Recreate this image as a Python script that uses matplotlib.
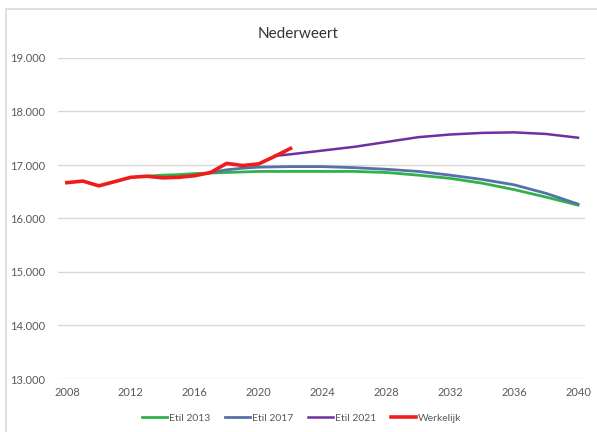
import matplotlib.pyplot as plt
from matplotlib.patches import Rectangle
from matplotlib.ticker import FuncFormatter, MultipleLocator

plt.rcParams['font.family'] = ['Lato', 'DejaVu Sans']

# observed population (x1000)
years_obs = [2008, 2009, 2010, 2011, 2012, 2013, 2014, 2015, 2016, 2017, 2018, 2019, 2020, 2021, 2022]
werkelijk = [16.67, 16.70, 16.61, 16.69, 16.77, 16.79, 16.76, 16.77, 16.80, 16.86, 17.03, 16.99, 17.02, 17.16, 17.31]

years_2013 = [2013, 2014, 2015, 2016, 2017, 2018, 2020, 2022, 2024, 2026, 2028, 2030, 2032, 2034, 2036, 2038, 2040]
etil_2013 = [16.79, 16.81, 16.82, 16.84, 16.85, 16.86, 16.88, 16.88, 16.88, 16.88, 16.86, 16.81, 16.75, 16.66, 16.54, 16.40, 16.25]

years_2017 = [2017, 2018, 2019, 2020, 2022, 2024, 2026, 2028, 2030, 2032, 2034, 2036, 2038, 2040]
etil_2017 = [16.86, 16.91, 16.94, 16.96, 16.97, 16.97, 16.95, 16.92, 16.88, 16.81, 16.73, 16.63, 16.47, 16.27]

years_2021 = [2021, 2022, 2024, 2026, 2028, 2030, 2032, 2034, 2036, 2038, 2040]
etil_2021 = [17.17, 17.20, 17.27, 17.34, 17.43, 17.52, 17.57, 17.60, 17.61, 17.58, 17.51]

x_ticks = list(range(2008, 2041, 4))

fig = plt.figure(figsize=(5.97, 4.32), dpi=100)
ax = fig.add_axes([58 / 597, 1 - 379 / 432, 527 / 597, 321 / 432])

# chart border (only top and left visible in the crop)
fig.patches.append(Rectangle((6 / 597, -0.1), 1.2, 1.1 - 9 / 432, transform=fig.transFigure,
                             fill=False, edgecolor='#d9d9d9', linewidth=1.2))

ax.plot(years_2013, etil_2013, color='#2fb24c', linewidth=2, label='Etil 2013')
ax.plot(years_2017, etil_2017, color='#5471a8', linewidth=2, label='Etil 2017')
ax.plot(years_2021, etil_2021, color='#7030a0', linewidth=1.8, label='Etil 2021')
ax.plot(years_obs, werkelijk, color='#ee1c1c', linewidth=2.6, label='Werkelijk')

ax.set_xlim(2007.44, 2040.44)
ax.set_ylim(13, 19)
ax.set_xticks(x_ticks)
ax.yaxis.set_major_locator(MultipleLocator(1))
ax.yaxis.set_major_formatter(FuncFormatter(lambda v, p: f'{v:.3f}'))
ax.grid(axis='y', color='#d9d9d9', linewidth=1)
ax.set_axisbelow(True)
for s in ax.spines.values():
    s.set_visible(False)
ax.tick_params(axis='x', length=0, labelsize=8, colors='#595959', pad=6)
ax.tick_params(axis='y', length=0, labelsize=8, colors='#595959', pad=9)

fig.text(0.5, 1 - 34 / 432, 'Nederweert', ha='center', va='center', fontsize=11, color='#333333')

fig.legend(loc='center', bbox_to_anchor=(0.505, 14 / 432), ncol=4, frameon=False, fontsize=7.5,
           handlelength=2.4, handletextpad=0.2, columnspacing=1.4, labelcolor='#595959')

plt.savefig('out.png', dpi=100)
